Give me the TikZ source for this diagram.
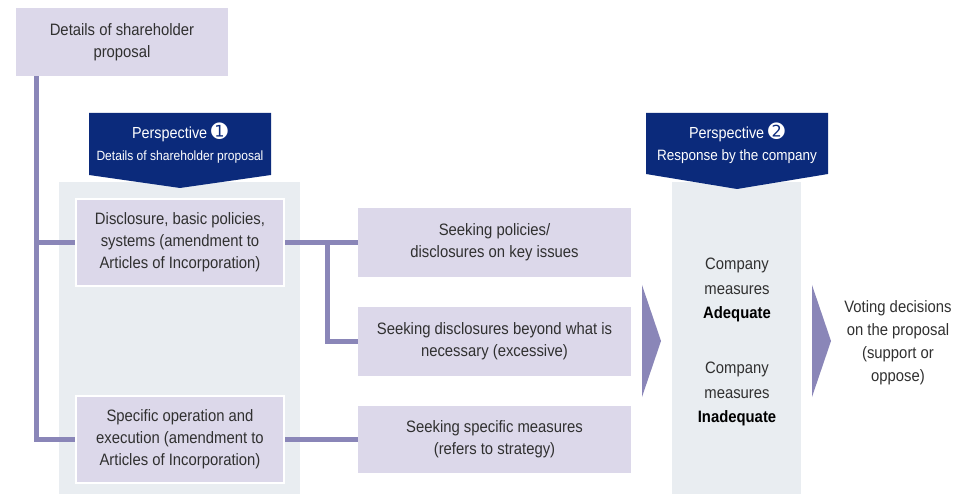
\documentclass[tikz,border=0pt]{standalone}
\usepackage{fontspec}
\setmainfont{Liberation Sans}[FakeStretch=0.9]
\newfontfamily\dingfont{DejaVu Sans}
\definecolor{lav}{HTML}{DCD8EA}
\definecolor{conncol}{HTML}{8A86B8}
\definecolor{navy}{HTML}{0B2A7B}
\definecolor{panel}{HTML}{E9EDF1}
\definecolor{txt}{HTML}{303030}
\tikzset{
  lavbox/.style={fill=lav, inner sep=0pt, text=txt, align=center, font=\fontsize{16.5}{22}\selectfont},
  panelbox/.style={lavbox, draw=white, line width=2pt},
  conn/.style={draw=conncol, line width=5pt},
  banner/.style={fill=navy},
  bantext/.style={text=white, inner sep=0pt, align=center},
  tri/.style={fill=conncol},
  plain/.style={inner sep=0pt, text=txt, align=center}
}
\begin{document}
\begin{tikzpicture}[x=1pt,y=-1pt]
\path[use as bounding box] (0,0) rectangle (975,494);
% grey panels
\fill[panel] (59,182) rectangle (300,494);
\fill[panel] (672,182) rectangle (801,494);
% top box
\node[lavbox, minimum width=212pt, minimum height=68pt] (top) at (122,42) {Details of shareholder\\proposal};
% left boxes
\node[panelbox, minimum width=208pt, minimum height=87pt] (b1) at (180,242.5) {Disclosure, basic policies,\\systems (amendment to\\Articles of Incorporation)};
\node[panelbox, minimum width=208pt, minimum height=87pt] (b2) at (180,439.5) {Specific operation and\\execution (amendment to\\Articles of Incorporation)};
% middle boxes
\node[lavbox, minimum width=273pt, minimum height=69pt] (ba) at (494.5,242.5) {Seeking policies/\\disclosures on key issues};
\node[lavbox, minimum width=273pt, minimum height=69pt] (bb) at (494.5,341.5) {Seeking disclosures beyond what is\\necessary (excessive)};
\node[lavbox, minimum width=273pt, minimum height=67pt] (bc) at (494.5,439.5) {Seeking specific measures\\(refers to strategy)};
% connectors
\coordinate (trunk) at (36,0);
\coordinate (split) at (327,0);
\draw[conn] (top.south -| trunk) |- (b2.west);
\draw[conn] (b1.west -| trunk) -- (b1.west);
\draw[conn] (b1.east) -- (ba.west);
\draw[conn] (b1.east -| split) |- (bb.west);
\draw[conn] (b2.east) -- (bc.west);
% banners
\fill[banner] (89,113) -- (271,113) -- (271,175) -- (180,188) -- (89,175) -- cycle;
\node[bantext, font=\fontsize{16}{20}\selectfont] (p1a) at (180,132) {Perspective {\dingfont\fontsize{20}{20}\selectfont ➊}};
\node[bantext, font=\fontsize{13.4}{16}\selectfont] (p1b) at (180,157) {Details of shareholder proposal};
\fill[banner] (646,113) -- (828,113) -- (828,174) -- (737,189) -- (646,174) -- cycle;
\node[bantext, font=\fontsize{16}{20}\selectfont] (p2a) at (737,132) {Perspective {\dingfont\fontsize{20}{20}\selectfont ➋}};
\node[bantext, font=\fontsize{15}{18}\selectfont] (p2b) at (737,157) {Response by the company};
% triangles
\fill[tri] (642,285) -- (661,341) -- (642,397) -- cycle;
\fill[tri] (812,285) -- (831,341) -- (812,397) -- cycle;
% panel 2 text
\node[plain, font=\fontsize{16.5}{24.5}\selectfont] (adq) at (737,290) {Company\\measures\\\textcolor{black}{\bfseries Adequate}};
\node[plain, font=\fontsize{16.5}{24.5}\selectfont] (inadq) at (737,394) {Company\\measures\\\textcolor{black}{\bfseries Inadequate}};
% voting
\node[plain, font=\fontsize{16.5}{23}\selectfont] (vote) at (898,343) {Voting decisions\\on the proposal\\(support or\\oppose)};
\end{tikzpicture}
\end{document}
